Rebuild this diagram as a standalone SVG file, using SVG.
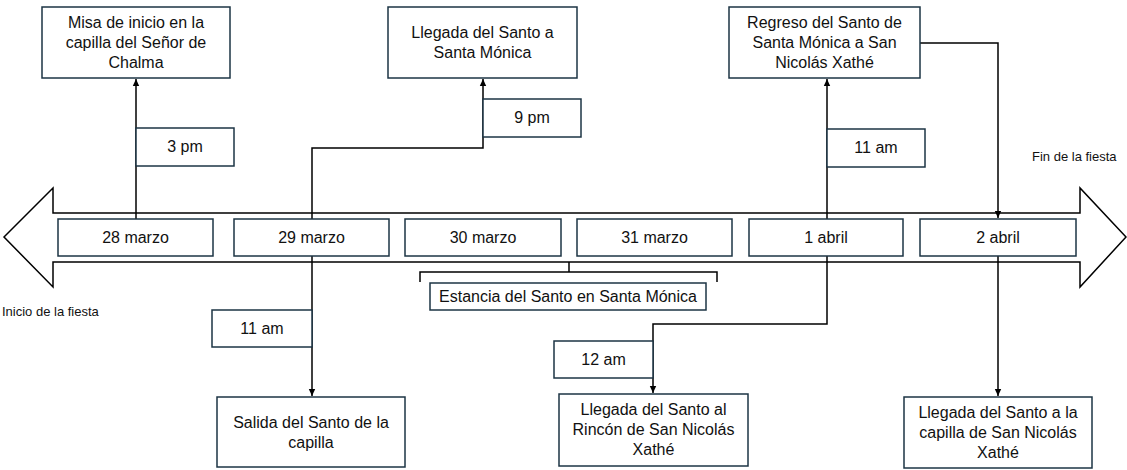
<svg xmlns="http://www.w3.org/2000/svg" width="1127" height="470" viewBox="0 0 1127 470">
<defs>
<marker id="ah" markerWidth="8" markerHeight="8" refX="7" refY="4" orient="auto" markerUnits="userSpaceOnUse">
<path d="M0,0.8 L7,4 L0,7.2 Z" fill="#000"/>
</marker>
<style>
.box{fill:#fff;stroke:#1c3444;stroke-width:1.5}
.t{font-family:"Liberation Sans",Arial,sans-serif;font-size:16px;fill:#111;text-anchor:middle}
.s{font-family:"Liberation Sans",Arial,sans-serif;font-size:13px;fill:#111}
.c{fill:none;stroke:#000;stroke-width:1.5}
</style>
</defs>
<rect width="1127" height="470" fill="#fff"/>
<g id="timeline">
<path d="M4,237 L53,188 L53,213 L1080,213 L1080,188 L1126,237 L1080,287 L1080,262 L53,262 L53,287 Z" fill="#fff" stroke="#000" stroke-width="1.5"/>
</g>
<g id="connectors">
<path class="c" d="M136,219 V79" marker-end="url(#ah)"/>
<path class="c" d="M312,219 V148 H483 V79" marker-end="url(#ah)"/>
<path class="c" d="M827,219 V79" marker-end="url(#ah)"/>
<path class="c" d="M920,43 H998 V218" marker-end="url(#ah)"/>
<path class="c" d="M312,256 V396" marker-end="url(#ah)"/>
<path class="c" d="M827,256 V324 H653 V393" marker-end="url(#ah)"/>
<path class="c" d="M998,256 V396" marker-end="url(#ah)"/>
<path class="c" d="M569,262 V272 M420,282 V272 H717 V282"/>
</g>
<g id="d28"><rect class="box" x="58" y="219" width="155" height="37"/><text class="t" x="135.5" y="243">28 marzo</text></g>
<g id="d29"><rect class="box" x="234" y="219" width="155" height="37"/><text class="t" x="311.5" y="243">29 marzo</text></g>
<g id="d30"><rect class="box" x="405" y="219" width="156" height="37"/><text class="t" x="483" y="243">30 marzo</text></g>
<g id="d31"><rect class="box" x="577" y="219" width="155" height="37"/><text class="t" x="654.5" y="243">31 marzo</text></g>
<g id="d1"><rect class="box" x="749" y="219" width="154" height="37"/><text class="t" x="826" y="243">1 abril</text></g>
<g id="d2"><rect class="box" x="920" y="219" width="156" height="37"/><text class="t" x="998" y="243">2 abril</text></g>
<g id="misa"><rect class="box" x="42" y="7" width="188" height="71"/><text class="t" x="136" y="28">Misa de inicio en la</text><text class="t" x="136" y="48">capilla del Señor de</text><text class="t" x="136" y="68">Chalma</text></g>
<g id="llegadaSM"><rect class="box" x="388" y="7" width="189" height="71"/><text class="t" x="482.5" y="38">Llegada del Santo a</text><text class="t" x="482.5" y="58">Santa Mónica</text></g>
<g id="regreso"><rect class="box" x="729" y="7" width="191" height="71"/><text class="t" x="824.5" y="28">Regreso del Santo de</text><text class="t" x="824.5" y="48">Santa Mónica a San</text><text class="t" x="824.5" y="68">Nicolás Xathé</text></g>
<g id="t3pm"><rect class="box" x="136" y="128" width="98" height="38"/><text class="t" x="185" y="152">3 pm</text></g>
<g id="t9pm"><rect class="box" x="483" y="99" width="98" height="38"/><text class="t" x="532" y="123">9 pm</text></g>
<g id="t11amA"><rect class="box" x="827" y="129" width="98" height="38"/><text class="t" x="876" y="153">11 am</text></g>
<g id="t11amB"><rect class="box" x="212" y="310" width="100" height="37"/><text class="t" x="262" y="334">11 am</text></g>
<g id="t12am"><rect class="box" x="554" y="341" width="99" height="37"/><text class="t" x="603.5" y="365">12 am</text></g>
<g id="salida"><rect class="box" x="217" y="397" width="188" height="70"/><text class="t" x="311" y="428">Salida del Santo de la</text><text class="t" x="311" y="448">capilla</text></g>
<g id="rincon"><rect class="box" x="559" y="394" width="189" height="72"/><text class="t" x="653.5" y="415">Llegada del Santo al</text><text class="t" x="653.5" y="435">Rincón de San Nicolás</text><text class="t" x="653.5" y="455">Xathé</text></g>
<g id="capillaSN"><rect class="box" x="904" y="397" width="188" height="71"/><text class="t" x="998" y="418">Llegada del Santo a la</text><text class="t" x="998" y="438">capilla de San Nicolás</text><text class="t" x="998" y="458">Xathé</text></g>
<g id="estancia"><rect class="box" x="430" y="283" width="276" height="27"/><text class="t" x="568" y="302">Estancia del Santo en Santa Mónica</text></g>
<g id="inicio"><text class="s" x="2" y="316">Inicio de la fiesta</text></g>
<g id="fin"><text class="s" x="1032" y="161">Fin de la fiesta</text></g>
</svg>
